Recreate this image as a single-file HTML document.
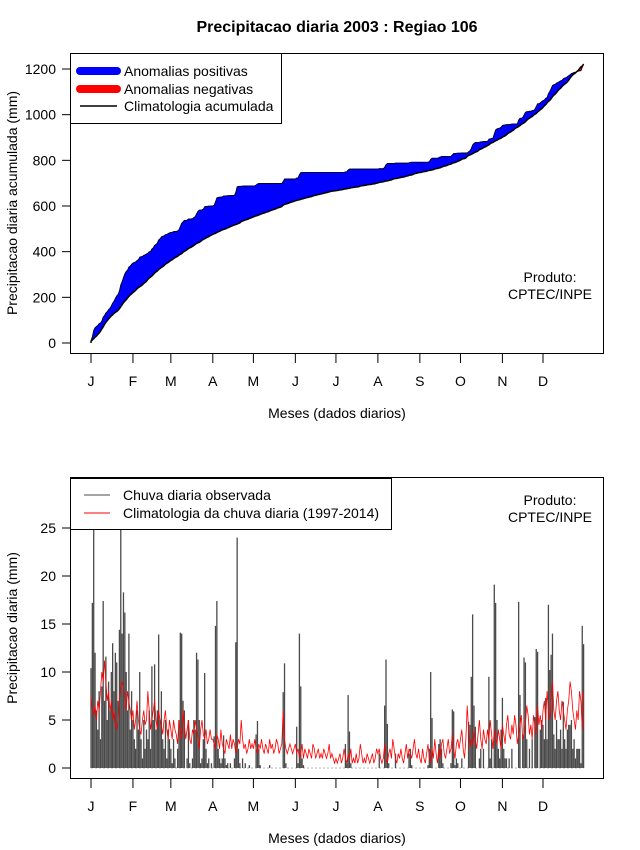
<!DOCTYPE html>
<html><head><meta charset="utf-8">
<style>
html,body{margin:0;padding:0;background:#fff;}
svg{display:block;font-family:"Liberation Sans",sans-serif;}
</style></head>
<body>
<svg id="chart" width="640" height="850" viewBox="0 0 640 850" xmlns="http://www.w3.org/2000/svg">
<text x="337" y="32" text-anchor="middle" font-size="16" font-weight="bold">Precipitacao diaria 2003 : Regiao 106</text>
<g id="topchart"></g>
<g id="botchart"></g>
</svg>
<script>
const months = ["J","F","M","A","M","J","J","A","S","O","N","D"];
const monthStartDays = [1,32,60,91,121,152,182,213,244,274,305,335];
const topTicks = [0,200,400,600,800,1000,1200];
const botTicks = [0,5,10,15,20,25];
const obsJan=[10.4,17.2,27,12,6,4,8,3,8.5,17.4,7,11.6,5,9,6,10,13,8,12,11,7,14.4,27,14,18.3,16.2,10,6,14,4,8];
const obsFeb=[5,3,2,6,4,10,3,1,5,2,4,3,6,2,10.6,5,10.8,4,6,13.9,5,8,3,2,5,1,4,3];
const obsMar=[2,0.5,3,1,0,2,5,14.1,14,7,6,0,1,5,0.5,0,1,5,4,12,11.3,5,0.5,1,3,9.9,2,0.5,1,0,0.5];
const obsApr=[0,3.3,14.8,17.4,2,1,0.5,1,3.4,1,0.3,0.5,0,0.5,0,0,1,13.1,24,2,0.5,0,1,0,0.5,0,0,0.3,0,0];
const obsMay=[0,0,3.5,4.9,2,0.3,0,0,0,0,0,0,0.3,0,0,0,0,0,0,0,0,0,7.9,10.9,0.5,0,0,0,0,0,0];
const obsJun=[0,4.3,0.5,14,8.5,1,0.3,0,0,0,0,0,0,0,0,0,0,0,0,0,0,0,0,0,0,0,0,0,0,0];
const obsJul=[0,0,0,0,0,0,0,2.5,0.5,7.6,3.8,0.5,0,0,0,0,0,0,0,0,0,0,0,0,0,0,0,0,0,0,0];
const obsAug=[0,1.5,0,0,0,6.5,11.3,4.6,0.5,0,0,0,0,1.5,0,0,0,0,0,0,0,0,0,1.5,2,0.3,0,0,0,0,0];
const obsSep=[0,0,0,0,0,0,0.3,2,10,5.2,0,0,0,0,2.5,3,2,0.5,0,0,0,0,0,0.5,6.1,5.9,0.3,1,0.5,0];
const obsOct=[0,1,0,0,0,0,4.8,4.5,9.5,16,6.5,4.3,0,0,1,2,0,2,0,0,0,9.5,1,3,0,19.1,17.2,5,2,1,4];
const obsNov=[7.3,2,1,1,0,1,0,2,0,0,0,0,17.3,7.6,0,3.5,11.5,11,3,0,2,0,3,0,5.3,12.4,12.1,0,4,5];
const obsDec=[4.5,3,7.3,3,17,10.2,11.8,14,3.5,2,5,3,3,4,2,6.9,3,2,4,4.5,4.5,5,2,3,1,2,2,2,0.5,14.8,12.9];
const climJan=[7.4,6,5.5,6.5,5,7,6,8,10,9,11.2,9,7,8,6,7,5,6,4.5,4,5,7,8.8,9,8.5,7,6,8,7,6,5];
const climFeb=[6,4,5,7,5,4,3.5,5,6,4.5,5,8,6,4,5,6,7,5,4,6,5,4.5,3.5,5,6,4,3,5];
const climMar=[4,3,5,4,3.5,2.5,5,4,3,6,4.5,3,4,5,3,2.5,4,3.5,5,4,3,2,4,5,3.5,3,4,2.5,3,4,3];
const climApr=[3,2.5,2,3.5,3,2,4,2.5,2,1.5,3,2.5,2,3.5,2,3,2.5,1.5,2,3,2.5,5,3,2,2.5,1.5,2,3,2,2.5];
const climMay=[2,3,2,1.5,2.5,2,3,2,1.5,2.5,2,1.5,3,2,2.5,1.5,2,3,2.5,1.5,2,2.5,6,3,2,1.5,2,2.5,2,1.5,2];
const climJun=[2.5,1.5,2,1,1.5,2.5,1,2,1.5,1,2,1.5,1,2.5,2,1,1.5,2,1,1.5,1,2,1.5,1,1.5,2.5,1,1.5,1,0.5];
const climJul=[1,0.5,1,1.5,0.5,1,2,1,0.5,1.5,1,2,0.5,1,0.5,1.5,0.5,1,2.5,1.5,0.5,1,0.5,1.5,1,0.5,1,1.5,0.5,1,2];
const climAug=[1.5,2,1,0.5,1,2.5,1,0.5,1.5,2,1,3,2,1,0.5,1.5,1,2,1,0.5,1.5,2.5,1,2,1.5,1,2,3,1.5,1,2];
const climSep=[1,0.5,2,1,0.5,1.5,2.5,1,0.5,2,1,3,1.5,0.5,2,1,2.5,3,1.5,1,2,3,1.5,2,3.5,2,1,2.5,3,2];
const climOct=[3,4,2,1,3,6.5,4,2,3,2.5,4,3,2,3.5,5,3,2,4,3,2.5,4,3,5,3.5,2,4,3,2.5,4,3,2];
const climNov=[4.5,3.5,2.5,4.5,5.5,3.5,3,4.5,3.5,5.5,4.5,2.5,3.5,4.5,5.5,3,3.5,4.5,6.5,5.5,3.5,4.5,3,5.5,4.5,3.5,6.5,4.5,5.5,4];
const climDec=[6,7,5,8,6,5,7,9,6,5,7,8,6,5,7,6,5,4,6,7,9,8,6,5,4,6,5,8,7,4,8];

const obs=[].concat(obsJan,obsFeb,obsMar,obsApr,obsMay,obsJun,obsJul,obsAug,obsSep,obsOct,obsNov,obsDec);
const clim=[].concat(climJan,climFeb,climMar,climApr,climMay,climJun,climJul,climAug,climSep,climOct,climNov,climDec);

const NS="http://www.w3.org/2000/svg";
const FS=14;
function mk(tag,attrs,parent){const e=document.createElementNS(NS,tag);for(const k in attrs)e.setAttribute(k,attrs[k]);parent.appendChild(e);return e;}
const xDay=d=>91+(d-1)*(543-91)/334;
const yTop=v=>343-v*(343-69)/1200;
const yBot=v=>768-v*(768-528)/25;

const topG=document.getElementById('topchart');
const botG=document.getElementById('botchart');

const cumObs=[],cumClim=[];let accO=0,accC=0;
for(let i=0;i<obs.length;i++){accO+=obs[i];accC+=(clim[i]||0);cumObs.push(accO);cumClim.push(accC);}
const nDays=obs.length;
for(let i=0;i<nDays;i++){
  const x0=i===0?xDay(1):xDay(i), x1=xDay(i+1);
  const o0=i===0?0:cumObs[i-1], c0=i===0?0:cumClim[i-1];
  const o1=cumObs[i], c1=cumClim[i];
  const col=(o0+o1)>=(c0+c1)?"#0000ff":"#ff0000";
  const p=mk('polygon',{points:`${x0},${yTop(o0)} ${x1},${yTop(o1)} ${x1},${yTop(c1)} ${x0},${yTop(c0)}`,fill:col,stroke:col,'stroke-width':0.6},topG);
  
  
}
let ptsO=`${xDay(1)},${yTop(0)}`,ptsC=`${xDay(1)},${yTop(0)}`;
for(let i=0;i<nDays;i++){ptsO+=` ${xDay(i+1)},${yTop(cumObs[i])}`;ptsC+=` ${xDay(i+1)},${yTop(cumClim[i])}`;}
const lo=mk('polyline',{points:ptsO,fill:'none',stroke:'#000','stroke-width':0.8},topG);


const lc=mk('polyline',{points:ptsC,fill:'none',stroke:'#000','stroke-width':1.5},topG);



const bl=mk('line',{x1:xDay(1),x2:xDay(365),y1:yBot(0),y2:yBot(0),stroke:'#bbb','stroke-width':1,'stroke-dasharray':'2,2'},botG);


for(let i=0;i<nDays;i++){
  if(obs[i]<=0)continue;
  const l=mk('line',{x1:xDay(i+1),x2:xDay(i+1),y1:yBot(0),y2:yBot(obs[i]),stroke:'#4a4a4a','stroke-width':1.3},botG);
  
  
}
let ptsR='';
for(let i=0;i<clim.length;i++){ptsR+=`${xDay(i+1)},${yBot(clim[i])} `;}
const rl=mk('polyline',{points:ptsR,fill:'none',stroke:'#ff0000','stroke-width':0.8},botG);



function axes(g,boxY0,boxY1,ticks,yf,ylabel,ylabelY,tickY){
  const r=mk('rect',{x:70.5,y:boxY0+0.5,width:533,height:boxY1-boxY0,fill:'none',stroke:'#000','stroke-width':1},g);
  
  
  ticks.forEach(t=>{
    const tl=mk('line',{x1:62,x2:70,y1:yf(t),y2:yf(t),stroke:'#000'},g);
    
    
    const tx=mk('text',{x:56,y:yf(t)+5,'text-anchor':'end','font-size':FS},g);
    tx.textContent=t;
    
    
  });
  monthStartDays.forEach((d,i)=>{
    const x=xDay(d);
    const tl=mk('line',{x1:x,x2:x,y1:boxY1+1,y2:boxY1+10,stroke:'#000'},g);
    
    
    const tx=mk('text',{x:x,y:tickY,'text-anchor':'middle','font-size':FS},g);
    tx.textContent=months[i];
    
    
  });
  const xl=mk('text',{x:337,y:tickY+32,'text-anchor':'middle','font-size':FS},g);
  xl.textContent='Meses (dados diarios)';
  
  
  const yl=mk('text',{x:0,y:0,'text-anchor':'middle','font-size':FS,transform:`translate(17,${ylabelY}) rotate(-90)`},g);
  yl.textContent=ylabel;
  
  
}
axes(topG,53,353,topTicks,yTop,'Precipitacao diaria acumulada (mm)',203,386);
axes(botG,477,778,botTicks,yBot,'Precipitacao diaria (mm)',628,811);

[[topG,282],[botG,505]].forEach(([g,y])=>{
  const t1=mk('text',{x:550,y:y,'text-anchor':'middle','font-size':FS},g);
  t1.textContent='Produto:';
  
  
  const t2=mk('text',{x:550,y:y+17,'text-anchor':'middle','font-size':FS},g);
  t2.textContent='CPTEC/INPE';
  
  
});

const lg1=mk('g',{},topG);


mk('rect',{x:70.5,y:53.5,width:211,height:70,fill:'#fff',stroke:'#000'},lg1);
[['#0000ff',8,'Anomalias positivas',71],['#ff0000',8,'Anomalias negativas',89],['#000',1.5,'Climatologia acumulada',106]].forEach(([c,w,t,y])=>{
  const e=mk('line',{x1:80,x2:117,y1:y,y2:y,stroke:c,'stroke-width':w,'stroke-linecap':w>2?'round':'butt'},lg1);
  
  
  const tx=mk('text',{x:124,y:y+5,'font-size':FS},lg1);
  tx.textContent=t;
  
  
});
const lg2=mk('g',{},botG);


mk('rect',{x:70.5,y:478.5,width:321,height:51,fill:'#fff',stroke:'#000'},lg2);
[['#4a4a4a','Chuva diaria observada',495],['#ff0000','Climatologia da chuva diaria (1997-2014)',513]].forEach(([c,t,y])=>{
  const e=mk('line',{x1:84,x2:110,y1:y,y2:y,stroke:c,'stroke-width':1},lg2);
  
  
  const tx=mk('text',{x:123,y:y+5,'font-size':FS},lg2);
  tx.textContent=t;
  
  
});
</script>
</body></html>
